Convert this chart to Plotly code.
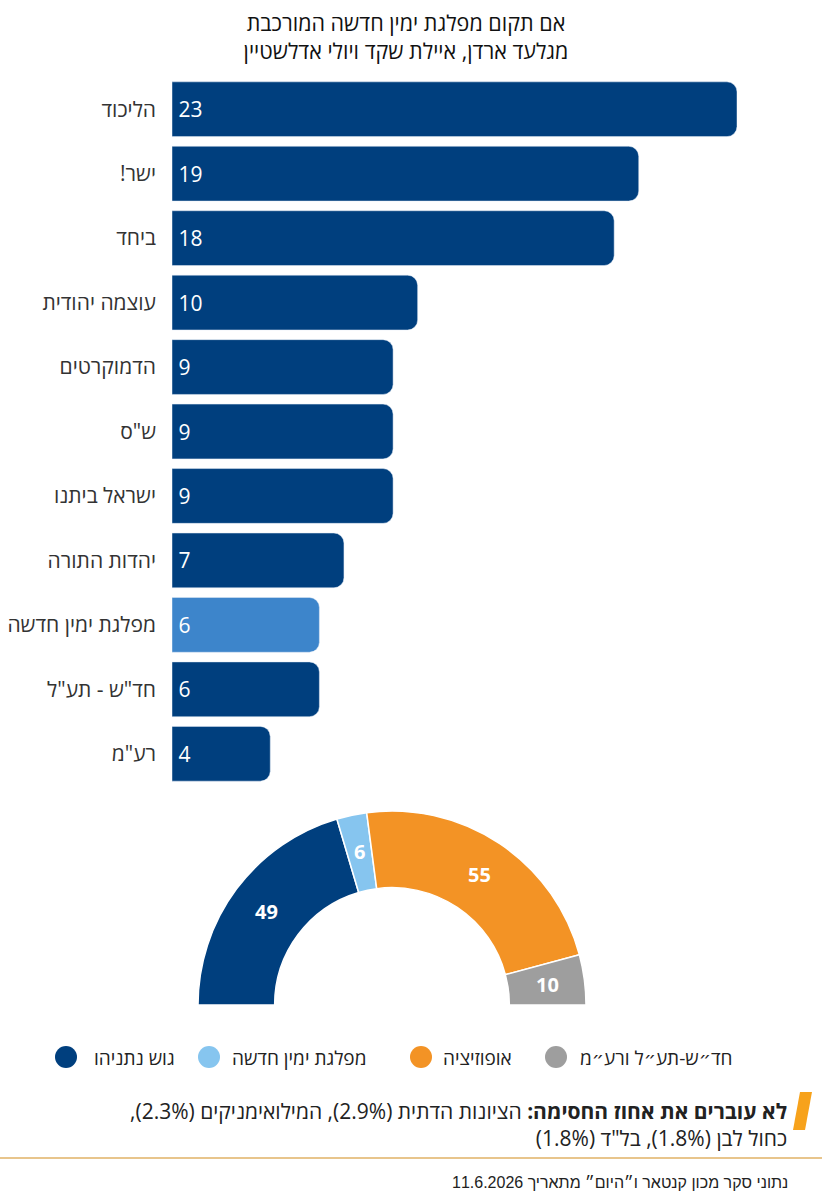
import math
import plotly.graph_objects as go

# seats per party (survey)
parties = ["הליכוד", "ישר!", "ביחד", "עוצמה יהודית", "הדמוקרטים", 'ש"ס', "ישראל ביתנו",
           "יהדות התורה", "מפלגת ימין חדשה", 'חד"ש - תע"ל', 'רע"מ']
seats = [23, 19, 18, 10, 9, 9, 9, 7, 6, 6, 4]
highlight = "מפלגת ימין חדשה"

# blocs for the half donut
blocs = ["גוש נתניהו", "מפלגת ימין חדשה", "אופוזיציה", "חד״ש-תע״ל ורע״מ"]
bloc_seats = [49, 6, 55, 10]
bloc_colors = ["#003f7e", "#86c5ef", "#f39325", "#9e9e9e"]

title_lines = ["אם תקום מפלגת ימין חדשה המורכבת", "מגלעד ארדן, איילת שקד ויולי אדלשטיין"]
note_bold = "לא עוברים את אחוז החסימה:"
note_line1 = "הציונות הדתית (2.9%), המילואימניקים (2.3%),"
note_line2 = 'כחול לבן (1.8%), בל"ד (1.8%)'
source = "נתוני סקר מכון קנטאר ו״היום״ מתאריך 11.6.2026"

W, H = 839, 1200
FONT = "Open Sans, DejaVu Sans, sans-serif"
NAVY = "#003f7e"
LIGHT_BAR = "#3d85cb"


def rtl(s):
    return "\u202b" + s + "\u202c"


def px(x):
    return x / W


def py(y):
    return 1 - y / H


fig = go.Figure()

fig.add_trace(go.Bar(
    x=seats,
    y=[rtl(p) for p in parties],
    orientation="h",
    marker=dict(color=[LIGHT_BAR if p == highlight else NAVY for p in parties]),
    text=["\u2009" + str(v) for v in seats],
    textposition="inside",
    insidetextanchor="start",
    textangle=0,
    textfont=dict(color="white", size=21, family=FONT),
    hoverinfo="skip",
    showlegend=False,
))

# half donut: a hidden slice takes the lower half
cx, cy, r_out = 392, 1005, 194
total = sum(bloc_seats)
fig.add_trace(go.Pie(
    values=bloc_seats + [total],
    labels=blocs + ["-"],
    textinfo="none",
    marker=dict(colors=bloc_colors + ["rgba(0,0,0,0)"],
                line=dict(color="white", width=[1.5, 1.5, 1.5, 1.5, 0])),
    sort=False,
    direction="clockwise",
    rotation=-90,
    hole=0.605,
    domain=dict(x=[px(cx - r_out), px(cx + r_out)], y=[py(cy + r_out), py(cy - r_out)]),
    hoverinfo="skip",
    showlegend=False,
))

shapes = []
annotations = []

# seat numbers on the donut, at the middle of each slice
r_mid = 157
done = 0
for v in bloc_seats:
    ang = math.pi * (1 - (done + v / 2) / total)
    done += v
    annotations.append(dict(text="<b>%d</b>" % v,
                            x=px(cx + r_mid * math.cos(ang)), y=py(cy - r_mid * math.sin(ang)),
                            xref="paper", yref="paper", showarrow=False,
                            xanchor="center", yanchor="middle",
                            font=dict(size=20, color="white", family=FONT)))

# legend
legend_pos = [(66, 92), (209, 230), (421, 441), (556, 578)]
for (lx, tx), name, col in zip(legend_pos, blocs, bloc_colors):
    shapes.append(dict(type="circle", xref="paper", yref="paper",
                       x0=px(lx - 11), x1=px(lx + 11), y0=py(1068), y1=py(1046),
                       fillcolor=col, line=dict(width=0)))
    annotations.append(dict(text=rtl(name), x=px(tx), y=py(1058), xref="paper", yref="paper",
                            xanchor="left", yanchor="middle", showarrow=False,
                            font=dict(size=19, color="#222", family=FONT)))

# note with orange mark
shapes.append(dict(type="path", xref="paper", yref="paper",
                   path="M %f %f L %f %f L %f %f L %f %f Z" % (
                       px(800), py(1092), px(812), py(1092), px(805), py(1130), px(793), py(1130)),
                   fillcolor="#f7a21b", line=dict(width=0)))
annotations.append(dict(
    text=rtl("<b>" + note_bold + "</b> " + note_line1) + "<br>" + rtl(note_line2),
    x=px(789), y=py(1124), xref="paper", yref="paper",
    xanchor="right", yanchor="middle", align="right", showarrow=False,
    font=dict(size=21, color="#222", family=FONT)))

shapes.append(dict(type="line", xref="paper", yref="paper",
                   x0=0, x1=px(822), y0=py(1158), y1=py(1158),
                   line=dict(color="#e8c58c", width=2)))

annotations.append(dict(text=rtl(source), x=px(790), y=py(1182), xref="paper", yref="paper",
                        xanchor="right", yanchor="middle", showarrow=False,
                        font=dict(size=16, color="#222", family="Liberation Sans, sans-serif")))

fig.update_layout(
    width=W, height=H,
    margin=dict(l=0, r=0, t=0, b=0),
    paper_bgcolor="white", plot_bgcolor="white",
    font=dict(family=FONT, color="#222"),
    title=dict(text=rtl(title_lines[0]) + "<br>" + rtl(title_lines[1]),
               x=px(406), xanchor="center", y=py(31), yanchor="middle",
               font=dict(size=21.5, color="#111", family=FONT)),
    bargap=0.15,
    barcornerradius=10,
    xaxis=dict(domain=[px(172), px(737)], range=[0, 23], visible=False, fixedrange=True),
    yaxis=dict(domain=[py(786), py(77)], autorange="reversed", showgrid=False,
               showline=False, zeroline=False, ticks="", ticklabelstandoff=15,
               tickfont=dict(size=21, color="#333", family=FONT), fixedrange=True),
    shapes=shapes,
    annotations=annotations,
)

# drop the default body margin so the figure fills the window
fig.write_html("out.html", config={"displayModeBar": False},
               post_script="document.body.style.margin='0';document.body.style.overflow='hidden';")
